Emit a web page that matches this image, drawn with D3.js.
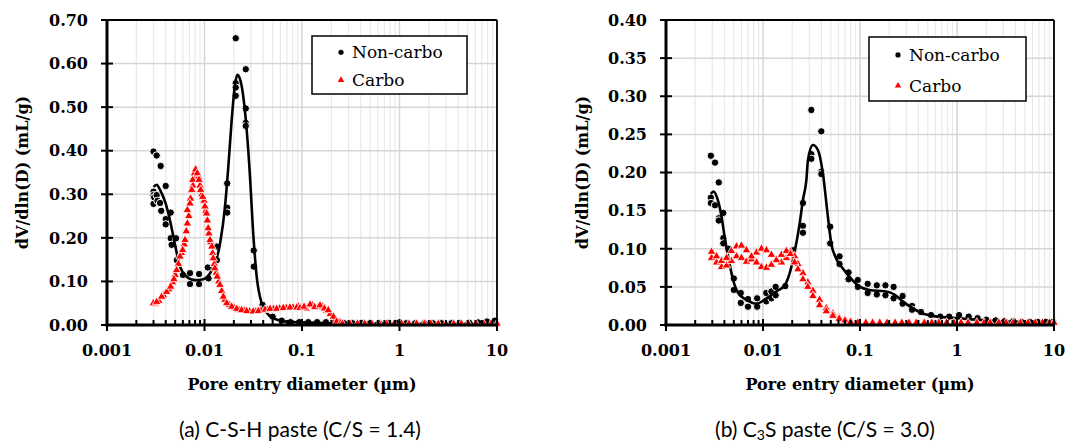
<!DOCTYPE html>
<html><head><meta charset="utf-8">
<script src="https://cdn.jsdelivr.net/npm/d3@7"></script>
<style>body{margin:0;background:#fff}svg{display:block}</style>
</head><body>
<svg id="c" width="1067" height="445"></svg>
<script>
// ---------- DATA ----------
const xMajorTicks = [0.001, 0.01, 0.1, 1, 10];
const xMajorLabels = ["0.001", "0.01", "0.1", "1", "10"];
const leftYTicks = [0, 0.1, 0.2, 0.3, 0.4, 0.5, 0.6, 0.7];
const rightYTicks = [0, 0.05, 0.1, 0.15, 0.2, 0.25, 0.3, 0.35, 0.4];
const seriesNames = ["Non-carbo", "Carbo"];
const xTitle = "Pore entry diameter (µm)";
const yTitle = "dV/dln(D) (mL/g)";

// (a) C-S-H paste — Non-carbo points [diameter µm, dV/dlnD]
const leftNonCarbo = [
  [0.0030,0.398],[0.0030,0.306],[0.0030,0.298],[0.0030,0.278],[0.00305,0.293],
  [0.00323,0.389],[0.00323,0.298],[0.0033,0.285],
  [0.00355,0.365],[0.0035,0.280],[0.0036,0.262],
  [0.0040,0.319],[0.0040,0.243],[0.0040,0.231],
  [0.0045,0.258],[0.0045,0.199],[0.0046,0.184],[0.0051,0.199],
  [0.0052,0.149],[0.0060,0.115],
  [0.0071,0.119],[0.0071,0.094],[0.0088,0.117],[0.0088,0.094],
  [0.0108,0.132],[0.0110,0.107],[0.0134,0.180],[0.0134,0.149],
  [0.0171,0.325],[0.0171,0.269],[0.0171,0.258],
  [0.0209,0.658],[0.0209,0.555],[0.0209,0.545],[0.0209,0.526],
  [0.0265,0.587],[0.0265,0.497],[0.0265,0.464],[0.0265,0.457],
  [0.0320,0.171],[0.0320,0.134],[0.0394,0.046],[0.0500,0.019],[0.0620,0.010],
  [0.0762,0.0065],[0.0940,0.0065],[0.116,0.0065],[0.143,0.0065],[0.176,0.0065],
  [0.22,0.005],[0.27,0.004],[0.33,0.004],[0.41,0.004],[0.50,0.004],[0.62,0.004],
  [0.77,0.004],[0.95,0.004],[1.17,0.004],[1.45,0.004],[1.8,0.004],[2.2,0.004],
  [2.7,0.004],[3.4,0.004],[4.2,0.004],[5.2,0.005],[6.4,0.006],[7.9,0.008],[9.5,0.010]
];
// (a) fitted curve for Non-carbo
const leftNonCarboFit = [
  [0.0030,0.317],[0.00323,0.322],[0.0035,0.310],[0.00394,0.283],[0.00443,0.240],
  [0.00498,0.185],[0.00561,0.134],[0.00657,0.111],[0.0080,0.103],[0.00972,0.105],
  [0.01186,0.126],[0.0144,0.185],[0.0162,0.270],[0.01755,0.363],[0.019,0.470],
  [0.0205,0.550],[0.0217,0.574],[0.0231,0.565],[0.0248,0.530],[0.0271,0.447],
  [0.0293,0.340],[0.0312,0.230],[0.0343,0.111],[0.0386,0.050],[0.0434,0.028],
  [0.0508,0.015],[0.067,0.008],[0.10,0.006],[0.20,0.004],[1,0.003],[10,0.003]
];
// (a) Carbo points, run 1 and run 2
const leftCarbo1 = [
  [0.00299,0.050],[0.00323,0.053],[0.00364,0.065],[0.00409,0.076],[0.0045,0.088],
  [0.00486,0.105],[0.00518,0.126],[0.00561,0.157],[0.00597,0.172],[0.00631,0.195],
  [0.00667,0.233],[0.00667,0.264],[0.0071,0.279],[0.0074,0.310],[0.00757,0.333],
  [0.00787,0.348],[0.00811,0.357],[0.00844,0.348],[0.00878,0.333],[0.00914,0.310],
  [0.00958,0.294],[0.0101,0.272],[0.0105,0.256],[0.0109,0.222],[0.0114,0.195],
  [0.0119,0.180],[0.0123,0.153],[0.0128,0.130],[0.0135,0.111],[0.0144,0.092],
  [0.0156,0.065],[0.0169,0.050],[0.019,0.042],[0.0214,0.037],[0.024,0.034],
  [0.0271,0.032],[0.0316,0.031],[0.0357,0.032],[0.0418,0.035],[0.047,0.037],
  [0.055,0.037],[0.0643,0.039],[0.0753,0.040],[0.0883,0.040],[0.0953,0.039],
  [0.105,0.042],[0.121,0.047],[0.135,0.041],[0.153,0.045],[0.170,0.038],
  [0.186,0.034],[0.210,0.019],[0.227,0.008],[0.25,0.005],
  [0.26,0.003],[0.31,0.003],[0.37,0.003],[0.44,0.003],[0.52,0.003],[0.62,0.003],
  [0.74,0.003],[0.88,0.003],[1.05,0.003],[1.25,0.003],[1.5,0.003],[1.8,0.003],
  [2.1,0.003],[2.5,0.003],[3.0,0.003],[3.6,0.003],[4.3,0.003],[5.1,0.003],
  [6.1,0.003],[7.3,0.003],[8.7,0.003],[10,0.003]
];
const leftCarbo2 = [
  [0.0031,0.048],[0.0034,0.055],[0.0038,0.068],[0.0043,0.082],[0.0047,0.098],
  [0.0050,0.115],[0.0054,0.140],[0.0058,0.165],[0.0062,0.185],[0.0065,0.215],
  [0.0069,0.250],[0.0072,0.290],[0.0076,0.320],[0.0079,0.340],[0.0083,0.352],
  [0.0087,0.340],[0.0090,0.320],[0.0094,0.300],[0.0099,0.285],[0.0103,0.262],
  [0.0107,0.240],[0.0111,0.210],[0.0116,0.190],[0.0121,0.165],[0.0126,0.140],
  [0.0132,0.120],[0.0140,0.100],[0.0150,0.078],[0.0162,0.058],[0.018,0.046],
  [0.020,0.040],[0.0225,0.035],[0.0255,0.033],[0.029,0.031],[0.0335,0.031],
  [0.038,0.033],[0.044,0.035],[0.051,0.037],[0.059,0.038],[0.069,0.039],
  [0.081,0.040],[0.092,0.042],[0.110,0.038],[0.128,0.045],[0.145,0.040],
  [0.162,0.042],[0.178,0.032],[0.195,0.025],[0.220,0.012],[0.240,0.006]
];

// (b) C3S paste — Non-carbo points
const rightNonCarbo = [
  [0.0029,0.222],[0.0029,0.167],[0.0029,0.160],[0.0032,0.213],[0.0032,0.157],
  [0.0035,0.187],[0.0035,0.140],[0.0035,0.137],[0.0039,0.147],[0.0039,0.114],
  [0.0039,0.107],[0.0044,0.100],[0.0050,0.061],[0.0050,0.046],[0.0059,0.042],
  [0.0059,0.029],[0.0070,0.034],[0.0070,0.024],[0.0087,0.035],[0.0087,0.024],
  [0.0108,0.042],[0.0108,0.031],[0.0122,0.044],[0.0122,0.035],[0.0135,0.050],
  [0.0135,0.039],[0.0170,0.051],[0.0204,0.098],[0.0258,0.160],[0.0258,0.130],
  [0.0258,0.121],[0.0315,0.282],[0.0315,0.224],[0.0315,0.218],[0.0399,0.254],
  [0.0399,0.201],[0.0399,0.198],[0.0493,0.129],[0.0493,0.107],[0.0615,0.090],
  [0.0615,0.080],[0.0762,0.069],[0.0762,0.060],[0.0949,0.059],[0.0949,0.050],
  [0.120,0.054],[0.120,0.042],[0.149,0.052],[0.149,0.040],[0.183,0.052],
  [0.183,0.039],[0.222,0.050],[0.222,0.035],[0.275,0.038],[0.275,0.028],
  [0.344,0.025],[0.344,0.020],[0.425,0.017],[0.54,0.013],[0.673,0.011],
  [0.83,0.011],[1.05,0.013],[1.32,0.011],[1.63,0.009],[2.0,0.007],[2.5,0.006],
  [3.1,0.005],[3.8,0.005],[4.6,0.004],[5.6,0.004],[6.8,0.004],[8.2,0.004],[9.8,0.004]
];
const rightNonCarboFit = [
  [0.0029,0.172],[0.0031,0.175],[0.0034,0.165],[0.00374,0.142],[0.00404,0.114],
  [0.00437,0.090],[0.00492,0.059],[0.00554,0.042],[0.00676,0.033],[0.00857,0.028],
  [0.01084,0.035],[0.01374,0.044],[0.01674,0.052],[0.01884,0.068],[0.0212,0.096],
  [0.02387,0.133],[0.02581,0.164],[0.02799,0.190],[0.02906,0.216],[0.03273,0.236],
  [0.03683,0.2295],[0.04142,0.199],[0.04666,0.142],[0.05055,0.107],[0.05691,0.087],
  [0.06656,0.074],[0.078,0.063],[0.0949,0.052],[0.1253,0.046],[0.1862,0.044],
  [0.2265,0.040],[0.2756,0.031],[0.3491,0.022],[0.4425,0.015],[0.5607,0.012],
  [0.7697,0.010],[0.9752,0.009],[2,0.006],[5,0.004],[10,0.004]
];
const rightCarbo1 = [
  [0.00295,0.096],[0.00332,0.090],[0.00374,0.084],[0.00421,0.088],[0.00473,0.097],
  [0.00533,0.103],[0.0060,0.104],[0.00676,0.098],[0.00761,0.090],[0.00857,0.082],
  [0.00964,0.076],[0.01085,0.075],[0.01222,0.079],[0.01375,0.085],[0.01548,0.092],
  [0.01742,0.097],[0.01915,0.093],[0.0212,0.082],[0.0229,0.073],[0.0258,0.060],
  [0.029,0.050],[0.0327,0.038],[0.0383,0.026],[0.0449,0.018],[0.0525,0.012],
  [0.061,0.008],[0.070,0.006],[0.080,0.004],
  [0.095,0.003],[0.115,0.003],[0.135,0.003],[0.16,0.003],[0.19,0.003],[0.23,0.003],
  [0.27,0.003],[0.32,0.003],[0.38,0.003],[0.46,0.003],[0.55,0.003],[0.65,0.003],
  [0.78,0.003],[0.93,0.003],[1.1,0.003],[1.3,0.003],[1.6,0.003],[1.9,0.003],
  [2.2,0.003],[2.7,0.003],[3.2,0.003],[3.8,0.003],[4.5,0.003],[5.4,0.003],
  [6.4,0.003],[7.6,0.003],[9.0,0.003],[10,0.003]
];
const rightCarbo2 = [
  [0.00295,0.088],[0.00332,0.082],[0.00374,0.076],[0.00421,0.078],[0.00473,0.084],
  [0.00533,0.090],[0.0060,0.088],[0.00676,0.083],[0.00761,0.086],[0.00857,0.095],
  [0.00964,0.100],[0.01085,0.098],[0.01222,0.092],[0.01375,0.086],[0.01548,0.082],
  [0.01742,0.088],[0.01915,0.096],[0.0212,0.090],[0.0229,0.080],[0.0258,0.068],
  [0.029,0.056],[0.0327,0.045],[0.0383,0.033],[0.0449,0.022],[0.0525,0.015],
  [0.061,0.010],[0.070,0.007],[0.080,0.005]
];

// ---------- DRAW ----------
const svg = d3.select("#c");
svg.append("rect").attr("width",1067).attr("height",445).attr("fill","#fff");

const panels = [
  {x0:107, x1:497, yMax:0.7, yTicks:leftYTicks, nc:leftNonCarbo, fit:leftNonCarboFit,
   carbo:[leftCarbo2, leftCarbo1], ylabX:22, legend:{x:312,y:36,w:155,h:58}},
  {x0:666, x1:1054, yMax:0.4, yTicks:rightYTicks, nc:rightNonCarbo, fit:rightNonCarboFit,
   carbo:[rightCarbo2, rightCarbo1], ylabX:582, legend:{x:869,y:37,w:157,h:64}}
];
const TOP = 20, BOT = 325;
const tickFont = "'DejaVu Serif', serif";

panels.forEach(p => {
  const x = d3.scaleLog().domain([0.001, 10]).range([p.x0, p.x1]);
  const y = d3.scaleLinear().domain([0, p.yMax]).range([BOT, TOP]);
  const g = svg.append("g");

  const minors = [];
  for (let e = -3; e < 1; e++) for (let k = 2; k <= 9; k++) minors.push(k * Math.pow(10, e));
  g.selectAll(".vmin").data(minors).join("line")
    .attr("x1", d => x(d)).attr("x2", d => x(d)).attr("y1", TOP).attr("y2", BOT)
    .attr("stroke", "#e9e9e9").attr("stroke-width", 1.2);
  g.selectAll(".vmaj").data(xMajorTicks).join("line")
    .attr("x1", d => x(d)).attr("x2", d => x(d)).attr("y1", TOP).attr("y2", BOT)
    .attr("stroke", "#d6d6d6").attr("stroke-width", 1.5);
  g.selectAll(".hg").data(p.yTicks).join("line")
    .attr("x1", p.x0).attr("x2", p.x1).attr("y1", d => y(d)).attr("y2", d => y(d))
    .attr("stroke", "#d6d6d6").attr("stroke-width", 1.5);

  g.selectAll(".nc").data(p.nc).join("circle")
    .attr("cx", d => x(d[0])).attr("cy", d => y(d[1])).attr("r", 3.7)
    .attr("fill", "#000").attr("stroke", "#fff").attr("stroke-width", 1);
  g.append("path").datum(p.fit)
    .attr("d", d3.line().x(d => x(d[0])).y(d => y(d[1])).curve(d3.curveMonotoneX))
    .attr("fill", "none").attr("stroke", "#000").attr("stroke-width", 2.6);
  const tri = d3.symbol(d3.symbolTriangle).size(32);
  p.carbo.forEach(run => {
    g.selectAll(null).data(run).join("path")
      .attr("d", tri).attr("transform", d => `translate(${x(d[0])},${y(d[1])})`)
      .attr("fill", "#ff0000").attr("stroke", "#fff").attr("stroke-width", 0.8);
  });

  g.append("line").attr("x1", p.x0).attr("x2", p.x1).attr("y1", TOP).attr("y2", TOP)
    .attr("stroke", "#000").attr("stroke-width", 1.8);
  g.append("line").attr("x1", p.x1).attr("x2", p.x1).attr("y1", TOP).attr("y2", BOT)
    .attr("stroke", "#000").attr("stroke-width", 1.8);
  g.append("line").attr("x1", p.x0).attr("x2", p.x0).attr("y1", TOP - 1).attr("y2", BOT + 1.5)
    .attr("stroke", "#000").attr("stroke-width", 3);
  g.append("line").attr("x1", p.x0 - 1.5).attr("x2", p.x1).attr("y1", BOT).attr("y2", BOT)
    .attr("stroke", "#000").attr("stroke-width", 3);
  g.selectAll(".yt").data(p.yTicks).join("line")
    .attr("x1", p.x0 - 6).attr("x2", p.x0 + 6).attr("y1", d => y(d)).attr("y2", d => y(d))
    .attr("stroke", "#000").attr("stroke-width", 2);
  g.selectAll(".xmin").data(minors).join("line")
    .attr("x1", d => x(d)).attr("x2", d => x(d)).attr("y1", BOT).attr("y2", BOT - 5)
    .attr("stroke", "#000").attr("stroke-width", 2);
  g.selectAll(".xmaj").data(xMajorTicks).join("line")
    .attr("x1", d => x(d)).attr("x2", d => x(d)).attr("y1", BOT - 6).attr("y2", BOT + 6)
    .attr("stroke", "#000").attr("stroke-width", 2);

  g.selectAll(".yl").data(p.yTicks).join("text")
    .attr("x", p.x0 - 19).attr("y", d => y(d)).attr("dy", "0.36em")
    .attr("text-anchor", "end").attr("font-family", tickFont).attr("font-weight", "bold")
    .attr("font-size", 16).text(d => d.toFixed(2));
  g.selectAll(".xl").data(xMajorTicks).join("text")
    .attr("x", d => x(d)).attr("y", 356)
    .attr("text-anchor", "middle").attr("font-family", tickFont).attr("font-weight", "bold")
    .attr("font-size", 16).text((d, i) => xMajorLabels[i]);
  g.append("text").attr("x", (p.x0 + p.x1) / 2).attr("y", 390)
    .attr("text-anchor", "middle").attr("font-family", tickFont).attr("font-weight", "bold")
    .attr("font-size", 16).text(xTitle);
  g.append("text").attr("transform", `translate(${p.ylabX},${(TOP + BOT) / 2}) rotate(-90)`)
    .attr("dy", "0.36em").attr("text-anchor", "middle").attr("font-family", tickFont)
    .attr("font-weight", "bold").attr("font-size", 16).text(yTitle);

  const L = p.legend;
  g.append("rect").attr("x", L.x).attr("y", L.y).attr("width", L.w).attr("height", L.h)
    .attr("fill", "#fff").attr("stroke", "#000").attr("stroke-width", 1.5);
  const rowY = [L.y + L.h * 0.28, L.y + L.h * 0.76];
  g.append("circle").attr("cx", L.x + 29).attr("cy", rowY[0]).attr("r", 2.6).attr("fill", "#000");
  g.append("path").attr("d", d3.symbol(d3.symbolTriangle).size(18))
    .attr("transform", `translate(${L.x + 29},${rowY[1]})`).attr("fill", "#ff0000");
  seriesNames.forEach((s, i) => {
    g.append("text").attr("x", L.x + 40).attr("y", rowY[i]).attr("dy", "0.36em")
      .attr("font-family", tickFont).attr("font-size", 17).text(s);
  });
});

const capFont = "Lato, 'Open Sans', sans-serif";
svg.append("text").attr("x", 300).attr("y", 437).attr("text-anchor", "middle")
  .attr("font-family", capFont).attr("font-size", 21).text("(a) C-S-H paste (C/S = 1.4)");
const capB = svg.append("text").attr("x", 825).attr("y", 437).attr("text-anchor", "middle")
  .attr("font-family", capFont).attr("font-size", 21);
capB.append("tspan").text("(b) C");
capB.append("tspan").attr("font-size", 14).attr("dy", 3).text("3");
capB.append("tspan").attr("dy", -3).text("S paste (C/S = 3.0)");
</script>
</body></html>
